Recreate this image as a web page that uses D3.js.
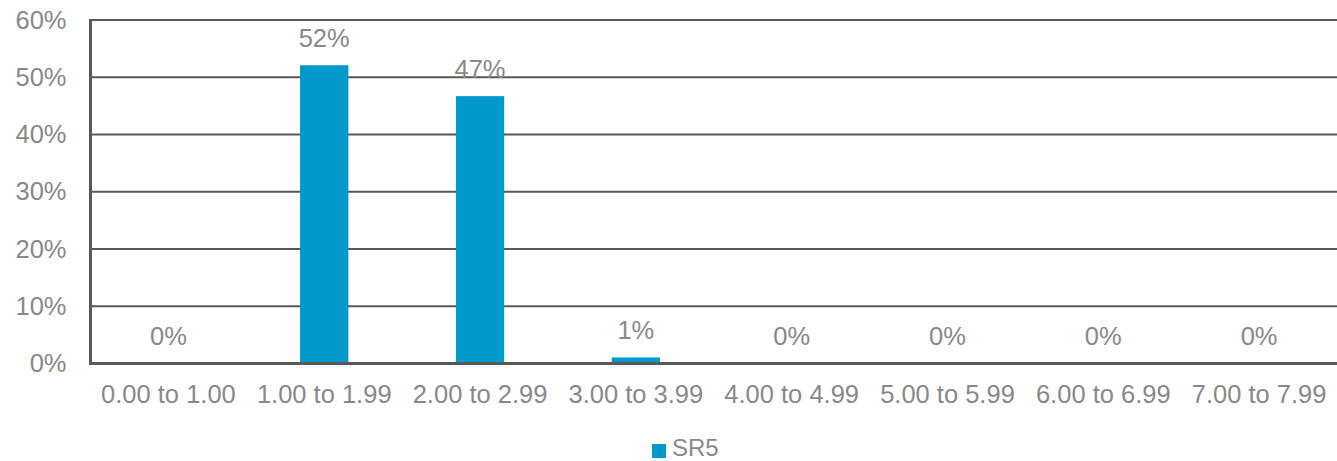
<!DOCTYPE html>
<html>
<head>
<meta charset="utf-8">
<script src="https://cdn.jsdelivr.net/npm/d3@7"></script>
<style>
  html, body { margin: 0; padding: 0; background: #ffffff; }
  svg { display: block; }
  text { font-family: "Liberation Sans", Arial, sans-serif; }
</style>
</head>
<body>
<svg id="chart" width="1337" height="461"></svg>
<script>
// Share of items per score band
const categories = ["0.00 to 1.00", "1.00 to 1.99", "2.00 to 2.99", "3.00 to 3.99",
                    "4.00 to 4.99", "5.00 to 5.99", "6.00 to 6.99", "7.00 to 7.99"];
const seriesName = "SR5";
const values = [0, 0.521, 0.467, 0.0105, 0, 0, 0, 0];
const yTicks = [0, 0.1, 0.2, 0.3, 0.4, 0.5, 0.6];

const plot = { left: 90.5, right: 1337, top: 20, bottom: 363.5 };
const textColor = "#898989";
const lineColor = "#595959";
const barColor = "#0099cc";
const fontSize = 25.5;

const svg = d3.select("#chart");
const pct = d3.format(".0%");

const x = d3.scaleBand()
  .domain(categories)
  .range([plot.left, plot.right])
  .paddingInner(0.69)
  .paddingOuter(0.345);

const y = d3.scaleLinear()
  .domain([0, 0.6])
  .range([plot.bottom, plot.top]);

// Horizontal gridlines
svg.append("g")
  .selectAll("line")
  .data(yTicks.filter(t => t > 0))
  .join("line")
  .attr("x1", plot.left)
  .attr("x2", plot.right)
  .attr("y1", d => y(d))
  .attr("y2", d => y(d))
  .attr("stroke", lineColor)
  .attr("stroke-width", 2);

// Y axis labels
const yAxis = d3.axisLeft(y).tickValues(yTicks).tickFormat(pct).tickSize(0).tickPadding(24);
const gy = svg.append("g").attr("transform", `translate(${plot.left},0)`).call(yAxis);
gy.select(".domain").remove();
gy.selectAll("text")
  .attr("fill", textColor)
  .attr("font-size", fontSize)
  .attr("font-family", "Liberation Sans, Arial, sans-serif");

// Bars
svg.append("g")
  .selectAll("rect")
  .data(values)
  .join("rect")
  .attr("x", (d, i) => x(categories[i]))
  .attr("width", x.bandwidth())
  .attr("y", d => y(d))
  .attr("height", d => y(0) - y(d))
  .attr("fill", barColor);

// Data labels
svg.append("g")
  .selectAll("text")
  .data(values)
  .join("text")
  .attr("x", (d, i) => x(categories[i]) + x.bandwidth() / 2)
  .attr("y", d => y(d) - 27.5)
  .attr("dy", "0.35em")
  .attr("text-anchor", "middle")
  .attr("fill", textColor)
  .attr("font-size", fontSize)
  .text(d => pct(d));

// Axis lines
svg.append("line")
  .attr("x1", plot.left).attr("x2", plot.left)
  .attr("y1", plot.top - 1).attr("y2", plot.bottom + 1.5)
  .attr("stroke", lineColor).attr("stroke-width", 3);

const xAxis = d3.axisBottom(x).tickSize(0).tickPadding(21);
const gx = svg.append("g").attr("transform", `translate(0,${plot.bottom})`).call(xAxis);
gx.select(".domain")
  .attr("stroke", lineColor)
  .attr("stroke-width", 3)
  .attr("d", `M${plot.left - 1.5},0H${plot.right}`);
gx.selectAll("text")
  .attr("fill", textColor)
  .attr("font-size", fontSize)
  .attr("font-family", "Liberation Sans, Arial, sans-serif");

// Legend
const legend = svg.append("g").attr("transform", "translate(652,444)");
legend.append("rect")
  .attr("width", 14).attr("height", 14)
  .attr("fill", barColor);
legend.append("text")
  .attr("x", 20).attr("y", 11.8)
  .attr("fill", textColor)
  .attr("font-size", 24)
  .text(seriesName);
</script>
</body>
</html>
